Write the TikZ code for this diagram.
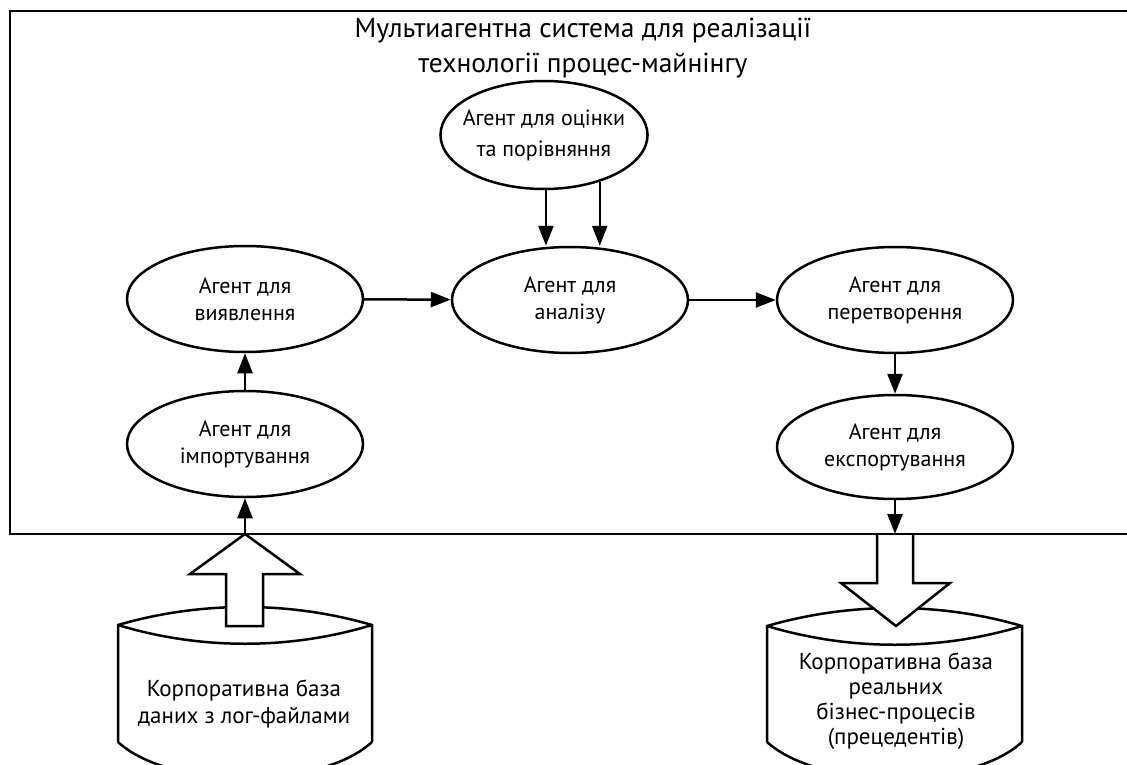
\documentclass[tikz,border=0pt]{standalone}
\usepackage{fontspec}
\setmainfont{PT Sans}
\usetikzlibrary{shapes.geometric,arrows.meta}

\begin{document}
\begin{tikzpicture}[x=1pt, y=-1pt, line width=2.5pt, >={Triangle[length=20pt, width=15pt]},
    agent/.style={draw, ellipse, inner sep=0pt, minimum width=236pt, minimum height=106pt,
                  align=center, font=\fontsize{22}{27}\selectfont},
    dbtext/.style={align=center, font=\fontsize{23}{27}\selectfont}]

    \useasboundingbox (0,0) rectangle (1127,765);
    \clip (0,0) rectangle (1127,765);

    % system frame
    \draw[line width=2.8pt] (1140,11) -- (10,11) -- (10,534) -- (1140,534);
    \node[align=center, font=\fontsize{27.5}{35}\selectfont] (title) at (583,48)
        {Мультиагентна система для реалізації\\технології процес-майнінгу};

    % agents
    \node[agent, inner xsep=-8pt, minimum width=192pt, minimum height=108pt,
          font=\fontsize{22}{31}\selectfont] (eval) at (544,135) {Агент для оцінки\\та порівняння};
    \node[agent] (an) at (570,300) {Агент для\\аналізу};
    \node[agent] (detect) at (245,299) {Агент для\\виявлення};
    \node[agent] (imp) at (245,444) {Агент для\\імпортування};
    \node[agent] (trans) at (895,300) {Агент для\\перетворення};
    \node[agent, minimum height=104pt] (exp) at (895,447) {Агент для\\експортування};

    \coordinate (inL) at (245,534);
    \coordinate (outR) at (895,534);

    \path[->]
        (detect) edge (an)
        (an) edge (trans)
        (inL) edge (imp)
        (imp) edge (detect)
        (trans) edge (exp)
        (exp) edge (outR);

    \draw[->] (eval.272) -- (eval.272 |- an.north);
    \draw[->] (eval.320) -- (eval.320 |- an.north);

    % databases
    \draw (118,742) -- (118,625) .. controls (200,601) and (290,601) .. (372,625) -- (372,742)
          (118,625) .. controls (200,650) and (290,650) .. (372,625)
          (118,742) .. controls (170,790) and (320,790) .. (372,742);
    \node[dbtext] (logdb) at (244,704) {Корпоративна база\\даних з лог-файлами};

    \draw (767,742) -- (767,626) .. controls (850,602) and (940,602) .. (1022,626) -- (1022,742)
          (767,626) .. controls (850,651) and (940,651) .. (1022,626)
          (767,742) .. controls (820,790) and (970,790) .. (1022,742);
    \node[dbtext, font=\fontsize{23}{25}\selectfont] (casedb) at (896,701)
        {Корпоративна база\\реальних\\бізнес-процесів\\(прецедентів)};

    % block arrows
    \draw[fill=white] (226,626) -- (226,574) -- (190,574) -- (inL) -- (300,574) -- (263,574) -- (263,626) -- cycle;
    \draw[fill=white] (877,535) -- (877,583) -- (841,583) -- (896,626) -- (950,583) -- (913,583) -- (913,535);

\end{tikzpicture}
\end{document}
